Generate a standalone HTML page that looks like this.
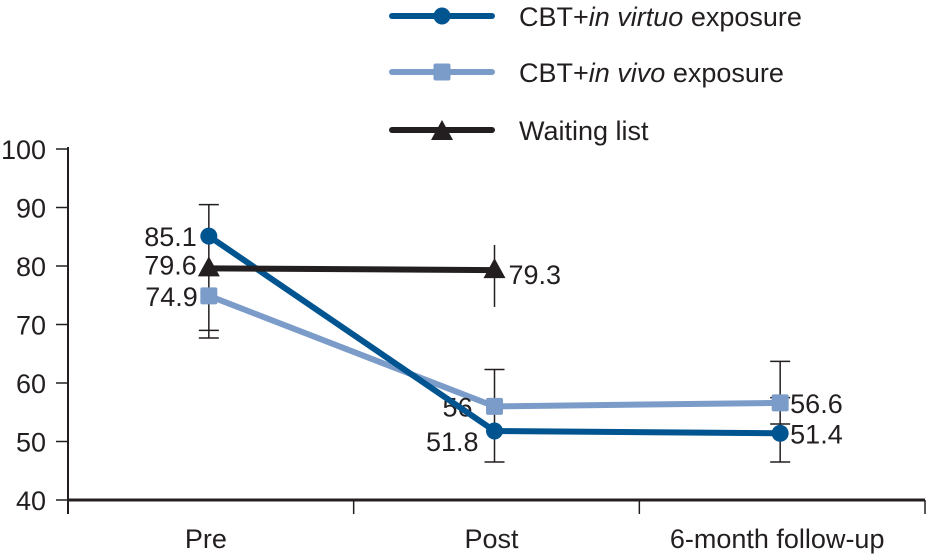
<!DOCTYPE html>
<html><head><meta charset="utf-8"><style>
body{margin:0;background:#fff}
svg{display:block;font-family:"Liberation Sans",sans-serif}
text{font-size:27px;fill:#231f20}
</style></head><body>
<svg id="chart" width="927" height="554" viewBox="0 0 927 554">
<g id="axes"></g>
<g id="errs"></g>
<g id="series"></g>
<g id="legend"></g>
</svg>
<script>
const categories=["Pre","Post","6-month follow-up"];
const yTicks=[40,50,60,70,80,90,100];
const virtuo=[85.1,51.8,51.4];
const vivo=[74.9,56,56.6];
const waiting=[79.6,79.3];
const virtuoLabels=["85.1","51.8","51.4"];
const vivoLabels=["74.9","56","56.6"];
const waitingLabels=["79.6","79.3"];
const errLow=[67.7,46.5,46.5];
const errHigh=[90.5,62.3,63.7];
const errLow2=[69,null,53];
const errHigh2=[null,null,57.5];
const waitLow=[null,73];
const waitHigh=[null,83.6];

const NS="http://www.w3.org/2000/svg";
const X0=68,X1=925,Y0=500,Y1=149;
const y=v=>Y0-(v-40)/(100-40)*(Y0-Y1);
const bw=(X1-X0)/3;
const x=i=>X0+bw*(i+0.5)-2;
function mk(tag,attrs,parent,txt){const e=document.createElementNS(NS,tag);for(const k in attrs)e.setAttribute(k,attrs[k]);if(txt!=null)e.textContent=txt;parent.appendChild(e);return e;}
const axes=document.getElementById('axes'),errs=document.getElementById('errs'),series=document.getElementById('series'),legend=document.getElementById('legend');

let a=mk('line',{x1:X0,y1:Y1-2,x2:X0,y2:Y0+14,stroke:'#231f20','stroke-width':2},axes);

a=mk('line',{x1:X0,y1:Y0,x2:X1,y2:Y0,stroke:'#231f20','stroke-width':3},axes);

yTicks.forEach(t=>{
  const l=mk('line',{x1:X0-12,y1:y(t),x2:X0,y2:y(t),stroke:'#231f20','stroke-width':1.5},axes);
  
  const tx=mk('text',{x:X0-22,y:y(t)+10,'text-anchor':'end'},axes,String(t));
  
});
for(let i=0;i<=3;i++){
  const l=mk('line',{x1:X0+bw*i,y1:Y0,x2:X0+bw*i,y2:Y0+14,stroke:'#231f20','stroke-width':1.5},axes);
  
}
categories.forEach((c,i)=>{
  const tx=mk('text',{x:X0+bw*(i+0.5)-5,y:548,'text-anchor':'middle'},axes,c);
  
});

function ebar(i,lo,hi,caps){
  const l=mk('line',{x1:x(i),y1:y(hi),x2:x(i),y2:y(lo),stroke:'#231f20','stroke-width':1.5},errs);
  
  if(caps)[lo,hi].forEach(v=>{const c=mk('line',{x1:x(i)-10,y1:y(v),x2:x(i)+10,y2:y(v),stroke:'#231f20','stroke-width':1.5},errs);
    });
}
errLow.forEach((lo,i)=>ebar(i,lo,errHigh[i],true));
errLow2.forEach((lo,i)=>{if(lo!=null){const c=mk('line',{x1:x(i)-10,y1:y(lo),x2:x(i)+10,y2:y(lo),stroke:'#231f20','stroke-width':1.5},errs);
  }});
errHigh2.forEach((hi,i)=>{if(hi!=null){const c=mk('line',{x1:x(i)-10,y1:y(hi),x2:x(i)+10,y2:y(hi),stroke:'#231f20','stroke-width':1.5},errs);
  }});
waitLow.forEach((lo,i)=>{if(lo!=null)ebar(i,lo,waitHigh[i],false);});

function marker(type,cx,cy,col,g){
  let m;
  if(type==='c')m=mk('circle',{cx:cx,cy:cy,r:8.5,fill:col},g);
  else if(type==='s')m=mk('rect',{x:cx-8.5,y:cy-8.5,width:17,height:17,rx:2,fill:col},g);
  else m=mk('polygon',{points:`${cx},${cy-12} ${cx-11},${cy+8} ${cx+11},${cy+8}`,fill:col},g);
  return m;
}
function drawSeries(vals,labels,col,type,name,labelPos){
  const g=mk('g',{},series);
  
  const p=mk('polyline',{points:vals.map((v,i)=>x(i)+','+y(v)).join(' '),fill:'none',stroke:col,'stroke-width':6},g);
  
  vals.forEach((v,i)=>{
    const m=marker(type,x(i),y(v),col,g);
    
    const lp=labelPos[i];
    const t=mk('text',{x:x(i)+lp[0],y:y(v)+lp[1],'text-anchor':lp[2]},g,labels[i]);
    
  });
}
drawSeries(vivo,vivoLabels,'#7b9cc8','s','vivo-series',[[-11,10,'end'],[-22,10,'end'],[10,10,'start']]);
drawSeries(virtuo,virtuoLabels,'#005490','c','virtuo-series',[[-12,10,'end'],[-16,20,'end'],[10,10,'start']]);
drawSeries(waiting,waitingLabels,'#231f20','t','waiting-series',[[-12,6,'end'],[14,14,'start']]);

const leg=[["CBT+","in virtuo"," exposure",'#005490','c',16],["CBT+","in vivo"," exposure",'#7b9cc8','s',72],["","","Waiting list",'#231f20','t',130]];
leg.forEach(l=>{
  const g=mk('g',{},legend);
  
  mk('line',{x1:392,y1:l[5],x2:492,y2:l[5],stroke:l[3],'stroke-width':6,'stroke-linecap':'round'},g);
  marker(l[4],442,l[5]+(l[4]==='t'?2:0),l[3],g);
  const t=mk('text',{x:519,y:l[5]+10,'font-size':28},g);
  if(l[0]){mk('tspan',{},t,l[0]);mk('tspan',{'font-style':'italic'},t,l[1]);}
  mk('tspan',{},t,l[2]);
});
</script>
</body></html>
